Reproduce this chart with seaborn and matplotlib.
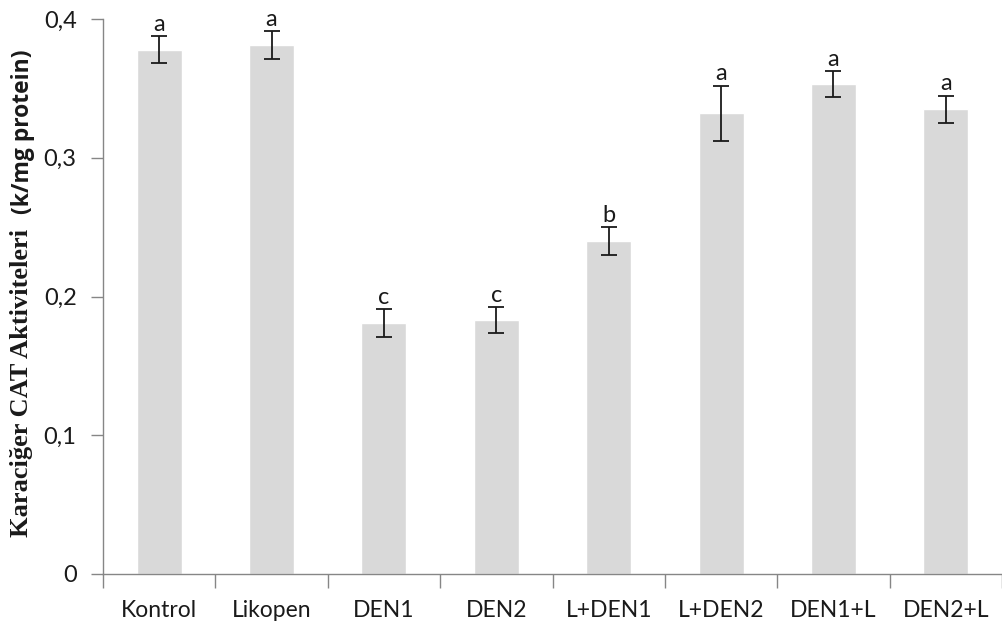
import matplotlib
matplotlib.use("Agg")
import matplotlib.pyplot as plt
import seaborn as sns
import pandas as pd
import numpy as np
from matplotlib.ticker import FixedLocator, FuncFormatter

groups = ["Kontrol", "Likopen", "DEN1", "DEN2", "L+DEN1", "L+DEN2", "DEN1+L", "DEN2+L"]
cat_activity = [0.378, 0.381, 0.181, 0.183, 0.240, 0.332, 0.353, 0.335]
sem = [0.0095, 0.010, 0.010, 0.0095, 0.010, 0.020, 0.0095, 0.0097]
letters = ["a", "a", "c", "c", "b", "a", "a", "a"]
yticks = [0.0, 0.1, 0.2, 0.3, 0.4]

sns.set_theme(style="white")
plt.rcParams["font.family"] = ["Lato", "DejaVu Sans"]

df = pd.DataFrame({"grup": groups, "aktivite": cat_activity})

fig = plt.figure(figsize=(10.02, 6.25), dpi=100)
ax = fig.add_axes([103 / 1002, 1 - 574 / 625, 1 - 103 / 1002, (574 - 19) / 625])

sns.barplot(data=df, x="grup", y="aktivite", order=groups, color="#d9d9d9",
            saturation=1, width=0.4, errorbar=None, ax=ax)
xs = np.arange(len(groups))
ax.errorbar(xs, cat_activity, yerr=sem, fmt="none", ecolor="#1a1a1a",
            elinewidth=1.3, capsize=6, capthick=1.3)

for x, v, e, lab in zip(xs, cat_activity, sem, letters):
    ax.annotate(lab, (x, v + e), xytext=(0, 1), textcoords="offset points",
                ha="center", va="bottom", fontsize=17, color="#1a1a1a")

ax.set_xlim(-0.5, len(groups) - 0.5)
ax.set_ylim(0, 0.4)
ax.set_yticks(yticks)
ax.yaxis.set_major_formatter(FuncFormatter(lambda v, p: "0" if v == 0 else f"{v:.1f}".replace(".", ",")))

ax.set_xticks(xs)
ax.set_xticklabels(groups)
ax.xaxis.set_minor_locator(FixedLocator(np.arange(-0.5, len(groups), 1.0)))
ax.tick_params(axis="x", which="major", length=0, pad=19, labelsize=16.5, labelcolor="#1a1a1a")
ax.tick_params(axis="x", which="minor", length=10, width=1, color="#868686", direction="out", bottom=True)
ax.tick_params(axis="y", which="major", length=9, width=1, color="#868686", direction="out",
               left=True, pad=10, labelsize=17, labelcolor="#1a1a1a")

for side in ["top", "right"]:
    ax.spines[side].set_visible(False)
for side in ["left", "bottom"]:
    ax.spines[side].set_color("#868686")
    ax.spines[side].set_linewidth(1)

ax.set_xlabel("")
ax.set_ylabel("")

# y-axis title: serif part followed by sans part, stacked vertically
fig.canvas.draw()
renderer = fig.canvas.get_renderer()
t1 = fig.text(22 / 1002, 1 - 537 / 625, "Karaciğer CAT Aktiviteleri ", rotation=90,
              ha="center", va="bottom", fontsize=19, fontweight="bold",
              family=["Liberation Serif", "DejaVu Serif"], color="#1a1a1a")
bb = t1.get_window_extent(renderer)
fig.text(23 / 1002, bb.y1 / fig.bbox.height + 0.004, " (k/mg protein)", rotation=90,
         ha="center", va="bottom", fontsize=16.5, fontweight="bold",
         family=["Open Sans", "DejaVu Sans"], color="#1a1a1a")

fig.savefig("out.png", dpi=100)
